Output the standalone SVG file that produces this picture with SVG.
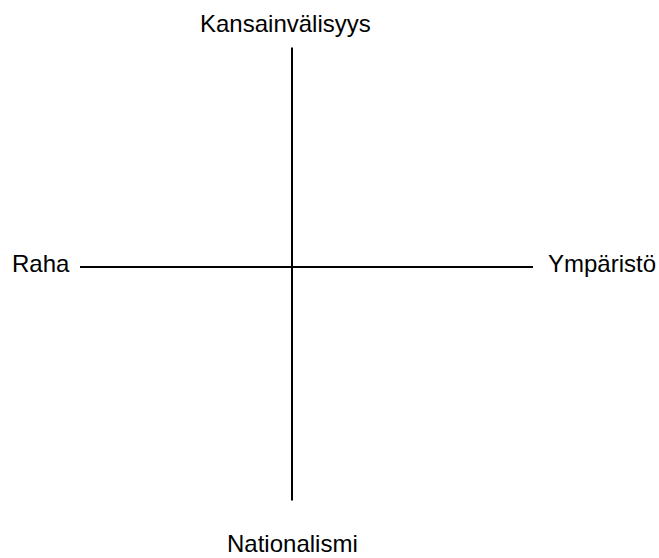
<svg xmlns="http://www.w3.org/2000/svg" width="659" height="558" viewBox="0 0 659 558">
<style>
.lbl{font-family:"Liberation Sans",Arial,sans-serif;font-size:24px;fill:#000}
.ax{stroke:#000;stroke-width:2;fill:none}
</style>
<rect width="659" height="558" fill="#fff"/>
<g id="connectors">
<line class="ax" x1="292" y1="47.5" x2="292" y2="500.5"/>
<line class="ax" x1="80" y1="267" x2="533" y2="267"/>
</g>
<g id="top"><text class="lbl" x="200" y="32">Kansainvälisyys</text></g>
<g id="left"><text class="lbl" x="12" y="272">Raha</text></g>
<g id="right"><text class="lbl" x="548" y="272">Ympäristö</text></g>
<g id="bottom"><text class="lbl" x="227" y="552">Nationalismi</text></g>
</svg>
